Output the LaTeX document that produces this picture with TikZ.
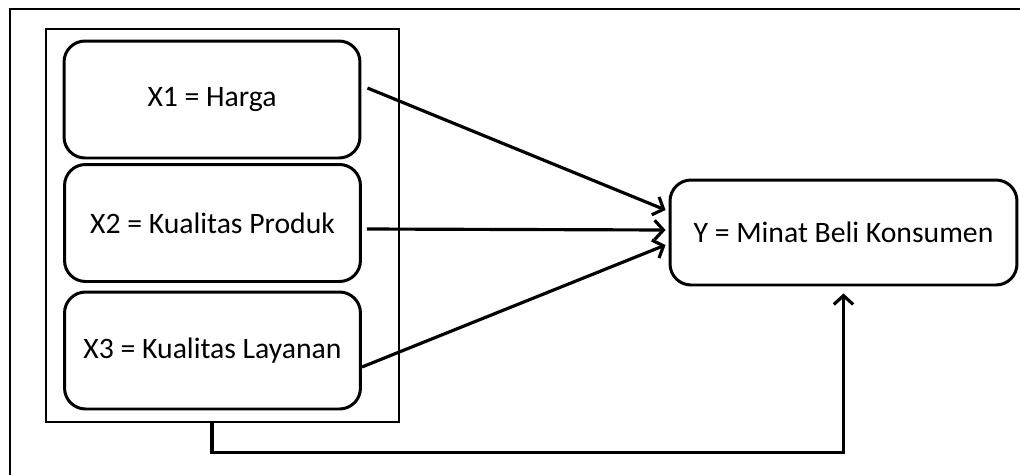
\documentclass[tikz,border=0pt]{standalone}
\usepackage{fontspec}
\setmainfont{Carlito}
\usetikzlibrary{arrows.meta}
\usetikzlibrary{calc}

\tikzset{
	varbox/.style={draw, line width=1.7pt, rounded corners=0.42cm, minimum width=5.92cm, minimum height=2.34cm, font=\fontsize{16.9}{20}\selectfont},
	ybox/.style={draw, line width=1.7pt, rounded corners=0.42cm, minimum width=6.94cm, minimum height=2.1cm, font=\fontsize{16.9}{20}\selectfont},
	grpbox/.style={draw, line width=0.7pt, minimum width=7.06cm, minimum height=7.86cm},
	panah/.style={line width=1.8pt, -{Straight Barb[length=5pt,width=11pt]}}
}

\begin{document}
\begin{tikzpicture}[x=0.02cm,y=-0.02cm]

		\useasboundingbox (0,0) rectangle (1020,474);
		
		% bingkai luar
		\draw [line width=0.7pt] (10,490) -- (10,9) -- (1040,9);
		
		\node [grpbox] (grp) at (222.5,225.5) {};
		
		\node [varbox] (x1) at (212,99.5) {X1 = Harga};
		\node [varbox] (x2) at (212.5,223) {X2 = Kualitas Produk};
		\node [varbox] (x3) at (212.5,350.5) {X3 = Kualitas Layanan};
		
		\node [ybox] (y) at (843.5,232.5) {Y = Minat Beli Konsumen};
		
		\draw [panah] ($(x1.east)+(6,-11.5)$) -- ($(y.west)+(-3,-22.5)$);
		\draw [panah] ($(x2.east)+(5,6)$) -- ($(y.west)+(-3,-2.5)$);
		\draw [panah] ($(x3.east)+(0,16.5)$) -- ($(y.west)+(-3,12.5)$);
		
		\coordinate (B1) at ($(grp.south)+(-10.5,0)$);
		\coordinate (Y1) at ($(y.south)+(0,7)$);
		\draw [panah] (B1) -- ++(0,30) -| (Y1);
		
\end{tikzpicture}
\end{document}
